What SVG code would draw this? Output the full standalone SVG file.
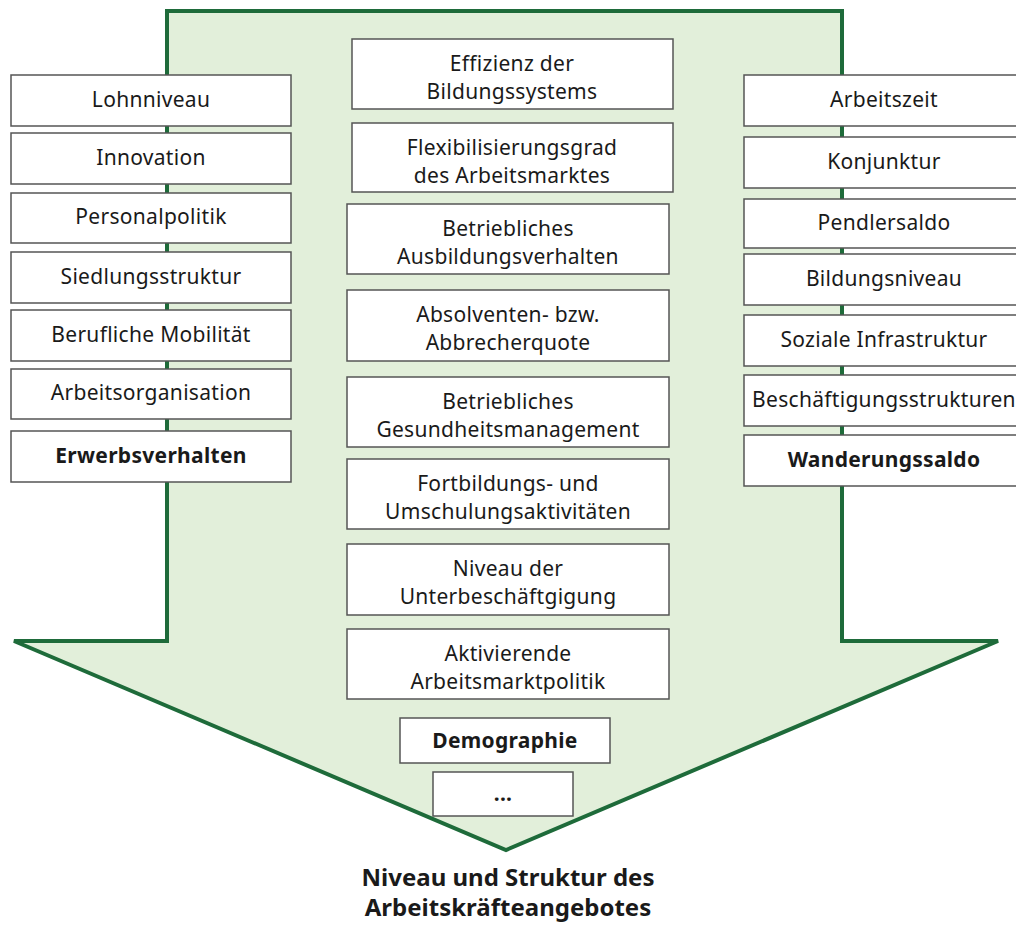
<svg xmlns="http://www.w3.org/2000/svg" width="1016" height="925" viewBox="0 0 1016 925">
<style>
.box{fill:#fff;stroke:#555;stroke-width:1.5}
.t{font-family:"Noto Sans","DejaVu Sans",sans-serif;font-size:21px;fill:#1a1a1a;text-anchor:middle;letter-spacing:0.3px}
.b{font-weight:bold}
.title{font-family:"Noto Sans","DejaVu Sans",sans-serif;font-size:24px;font-weight:bold;fill:#1a1a1a;text-anchor:middle}
</style>
<rect width="1016" height="925" fill="#fff"/>
<g id="arrow">
<path d="M167,11 L842,11 L842,641 L998,641 L506,850 L14,641 L167,641 Z" fill="#e2efda" stroke="#1e6b3a" stroke-width="4" stroke-linejoin="miter"/>
</g>
<g id="connectors"></g>
<g id="left">
<g id="n-lohnniveau"><rect class="box" x="11" y="75" width="280" height="51"/><text class="t" x="151" y="107">Lohnniveau</text></g>
<g id="n-innovation"><rect class="box" x="11" y="133" width="280" height="51"/><text class="t" x="151" y="165">Innovation</text></g>
<g id="n-personalpolitik"><rect class="box" x="11" y="193" width="280" height="50"/><text class="t" x="151" y="224">Personalpolitik</text></g>
<g id="n-siedlung"><rect class="box" x="11" y="252" width="280" height="51"/><text class="t" x="151" y="284">Siedlungsstruktur</text></g>
<g id="n-mobilitaet"><rect class="box" x="11" y="310" width="280" height="51"/><text class="t" x="151" y="342">Berufliche Mobilität</text></g>
<g id="n-arbeitsorg"><rect class="box" x="11" y="369" width="280" height="50"/><text class="t" x="151" y="400">Arbeitsorganisation</text></g>
<g id="n-erwerb"><rect class="box" x="11" y="431" width="280" height="51"/><text class="t b" x="151" y="463">Erwerbsverhalten</text></g>
</g>
<g id="right">
<g id="n-arbeitszeit"><rect class="box" x="744" y="75" width="282" height="51"/><text class="t" x="884" y="107">Arbeitszeit</text></g>
<g id="n-konjunktur"><rect class="box" x="744" y="137" width="282" height="51"/><text class="t" x="884" y="169">Konjunktur</text></g>
<g id="n-pendler"><rect class="box" x="744" y="199" width="282" height="49"/><text class="t" x="884" y="230">Pendlersaldo</text></g>
<g id="n-bildungsniveau"><rect class="box" x="744" y="254" width="282" height="51"/><text class="t" x="884" y="286">Bildungsniveau</text></g>
<g id="n-sozial"><rect class="box" x="744" y="315" width="282" height="51"/><text class="t" x="884" y="347">Soziale Infrastruktur</text></g>
<g id="n-beschaeftigung"><rect class="box" x="744" y="375" width="282" height="51"/><text class="t" x="884" y="407">Beschäftigungsstrukturen</text></g>
<g id="n-wanderung"><rect class="box" x="744" y="435" width="282" height="51"/><text class="t b" x="884" y="467">Wanderungssaldo</text></g>
</g>
<g id="middle">
<g id="n-effizienz"><rect class="box" x="352" y="39" width="321" height="70"/><text class="t" x="512" y="71">Effizienz der</text><text class="t" x="512" y="99">Bildungssystems</text></g>
<g id="n-flex"><rect class="box" x="352" y="123" width="321" height="69"/><text class="t" x="512" y="155">Flexibilisierungsgrad</text><text class="t" x="512" y="183">des Arbeitsmarktes</text></g>
<g id="n-ausbildung"><rect class="box" x="347" y="204" width="322" height="70"/><text class="t" x="508" y="236">Betriebliches</text><text class="t" x="508" y="264">Ausbildungsverhalten</text></g>
<g id="n-absolventen"><rect class="box" x="347" y="290" width="322" height="71"/><text class="t" x="508" y="322">Absolventen- bzw.</text><text class="t" x="508" y="350">Abbrecherquote</text></g>
<g id="n-gesundheit"><rect class="box" x="347" y="377" width="322" height="70"/><text class="t" x="508" y="409">Betriebliches</text><text class="t" x="508" y="437">Gesundheitsmanagement</text></g>
<g id="n-fortbildung"><rect class="box" x="347" y="459" width="322" height="70"/><text class="t" x="508" y="491">Fortbildungs- und</text><text class="t" x="508" y="519">Umschulungsaktivitäten</text></g>
<g id="n-unterbeschaeftigung"><rect class="box" x="347" y="544" width="322" height="71"/><text class="t" x="508" y="576">Niveau der</text><text class="t" x="508" y="604">Unterbeschäftgigung</text></g>
<g id="n-aktivierende"><rect class="box" x="347" y="629" width="322" height="70"/><text class="t" x="508" y="661">Aktivierende</text><text class="t" x="508" y="689">Arbeitsmarktpolitik</text></g>
<g id="n-demographie"><rect class="box" x="400" y="718" width="210" height="45"/><text class="t b" x="505" y="748">Demographie</text></g>
<g id="n-etc"><rect class="box" x="433" y="772" width="140" height="44"/><text class="t b" x="503" y="801">...</text></g>
</g>
<g id="title">
<text class="title" x="508" y="886">Niveau und Struktur des</text>
<text class="title" x="508" y="916">Arbeitskräfteangebotes</text>
</g>
</svg>
